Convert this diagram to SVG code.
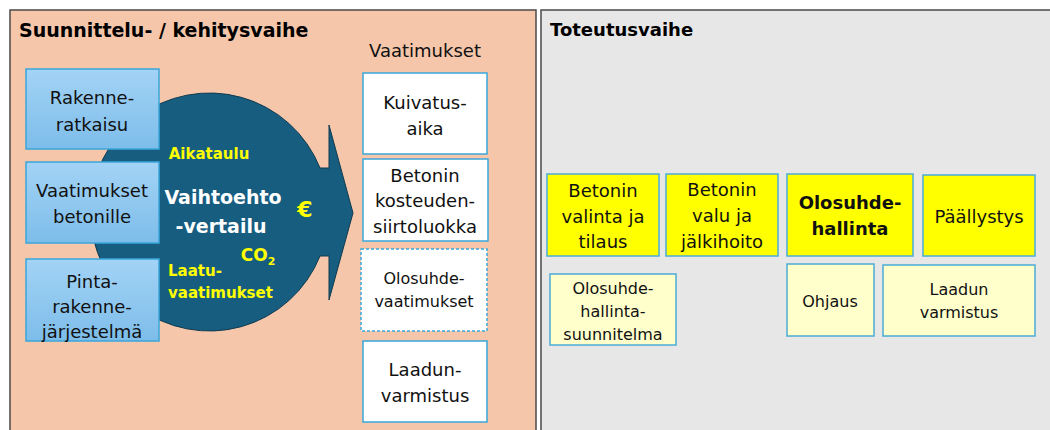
<svg xmlns="http://www.w3.org/2000/svg" width="1050" height="430" viewBox="0 0 1050 430">
<defs>
<linearGradient id="bg" x1="0" y1="0" x2="0" y2="1">
<stop offset="0" stop-color="#A3D3F5"/>
<stop offset="1" stop-color="#7DBDEA"/>
</linearGradient>
</defs>
<style>
text{font-family:"DejaVu Sans","Liberation Sans",sans-serif;text-anchor:middle;fill:#111}
.panelL{fill:#F5C6AA;stroke:#4a4a4a;stroke-width:1.5}
.panelR{fill:#E7E7E7;stroke:#4a4a4a;stroke-width:1.5}
.ttl{font-weight:bold;text-anchor:start;fill:#000}
.blue{fill:url(#bg);stroke:#3AA6DA;stroke-width:1.5}
.wbox{fill:#fff;stroke:#3AA6DA;stroke-width:1.5}
.dash{fill:#fff;stroke:#3AA6DA;stroke-width:1.5;stroke-dasharray:3 2}
.yb{fill:#FFFF00;stroke:#4BACD6;stroke-width:1.5}
.lyb{fill:#FFFFCC;stroke:#4BACD6;stroke-width:1.5}
.t18{font-size:18px}
.t16{font-size:16px}
.y{fill:#FFFF00;font-weight:bold}
.w{fill:#fff;font-weight:bold}
</style>
<g id="panel-left">
<rect class="panelL" x="10" y="10" width="526" height="430"/>
<text class="ttl" x="19" y="37" font-size="19">Suunnittelu- / kehitysvaihe</text>
</g>
<g id="panel-right">
<rect class="panelR" x="541" y="10" width="520" height="430"/>
<text class="ttl" x="550" y="36" font-size="18">Toteutusvaihe</text>
</g>
<g id="comparison">
<path d="M320,168 L329,168 L329,125 L353,213 L329,300 L329,256 L320,256 A119,119 0 1 1 320,168 Z" fill="#175D80" stroke="#0E3A50" stroke-width="1"/>
<text class="w" x="223" y="204" font-size="19">Vaihtoehto</text>
<text class="w" x="221" y="233" font-size="19">-vertailu</text>
<text class="y" x="209" y="159" font-size="15">Aikataulu</text>
<text class="y" x="305" y="217" font-size="22">€</text>
<text class="y" x="258" y="261" font-size="17">CO<tspan font-size="11" dy="4">2</tspan></text>
<text class="y" x="168" y="276" font-size="15" style="text-anchor:start">Laatu-</text>
<text class="y" x="168" y="298" font-size="15" style="text-anchor:start">vaatimukset</text>
</g>
<g id="rakenneratkaisu">
<rect class="blue" x="26" y="69" width="133" height="80"/>
<text class="t18" x="92" y="104">Rakenne-</text>
<text class="t18" x="92" y="131">ratkaisu</text>
</g>
<g id="vaatimukset-betonille">
<rect class="blue" x="26" y="162" width="133" height="81"/>
<text class="t18" x="92" y="197">Vaatimukset</text>
<text class="t18" x="92" y="223">betonille</text>
</g>
<g id="pintarakennejarjestelma">
<rect class="blue" x="26" y="259" width="133" height="82"/>
<text class="t18" x="92" y="288">Pinta-</text>
<text class="t18" x="92" y="313">rakenne-</text>
<text class="t18" x="92" y="338">järjestelmä</text>
</g>
<g id="vaatimukset">
<text class="t18" x="425" y="57">Vaatimukset</text>
</g>
<g id="kuivatusaika">
<rect class="wbox" x="363" y="73" width="124" height="81"/>
<text class="t18" x="425" y="109">Kuivatus-</text>
<text class="t18" x="425" y="135">aika</text>
</g>
<g id="siirtoluokka">
<rect class="wbox" x="363" y="159" width="125" height="82"/>
<text class="t18" x="425" y="182">Betonin</text>
<text class="t18" x="425" y="207">kosteuden-</text>
<text class="t18" x="425" y="233">siirtoluokka</text>
</g>
<g id="olosuhdevaatimukset">
<rect class="dash" x="361" y="249" width="126" height="82"/>
<text class="t16" x="424" y="284">Olosuhde-</text>
<text class="t16" x="424" y="307">vaatimukset</text>
</g>
<g id="laadunvarmistus">
<rect class="wbox" x="363" y="341" width="124" height="81"/>
<text class="t18" x="425" y="376">Laadun-</text>
<text class="t18" x="425" y="402">varmistus</text>
</g>
<g id="betonin-valinta">
<rect class="yb" x="547" y="174" width="112" height="82"/>
<text class="t18" x="603" y="197">Betonin</text>
<text class="t18" x="603" y="223">valinta ja</text>
<text class="t18" x="603" y="248">tilaus</text>
</g>
<g id="betonin-valu">
<rect class="yb" x="666" y="174" width="112" height="82"/>
<text class="t18" x="722" y="196">Betonin</text>
<text class="t18" x="722" y="222">valu ja</text>
<text class="t18" x="722" y="248">jälkihoito</text>
</g>
<g id="olosuhdehallinta">
<rect class="yb" x="787" y="174" width="126" height="82"/>
<text class="t18" x="850" y="209" font-weight="bold">Olosuhde-</text>
<text class="t18" x="850" y="235" font-weight="bold">hallinta</text>
</g>
<g id="paallystys">
<rect class="yb" x="923" y="175" width="112" height="81"/>
<text class="t18" x="979" y="223">Päällystys</text>
</g>
<g id="olosuhdehallintasuunnitelma">
<rect class="lyb" x="550" y="274" width="126" height="71"/>
<text class="t16" x="613" y="294">Olosuhde-</text>
<text class="t16" x="613" y="317">hallinta-</text>
<text class="t16" x="613" y="340">suunnitelma</text>
</g>
<g id="ohjaus">
<rect class="lyb" x="787" y="264" width="87" height="72"/>
<text class="t16" x="830" y="307">Ohjaus</text>
</g>
<g id="laadun-varmistus">
<rect class="lyb" x="883" y="265" width="152" height="71"/>
<text class="t16" x="959" y="295">Laadun</text>
<text class="t16" x="959" y="318">varmistus</text>
</g>
<g id="connectors"/>
</svg>
